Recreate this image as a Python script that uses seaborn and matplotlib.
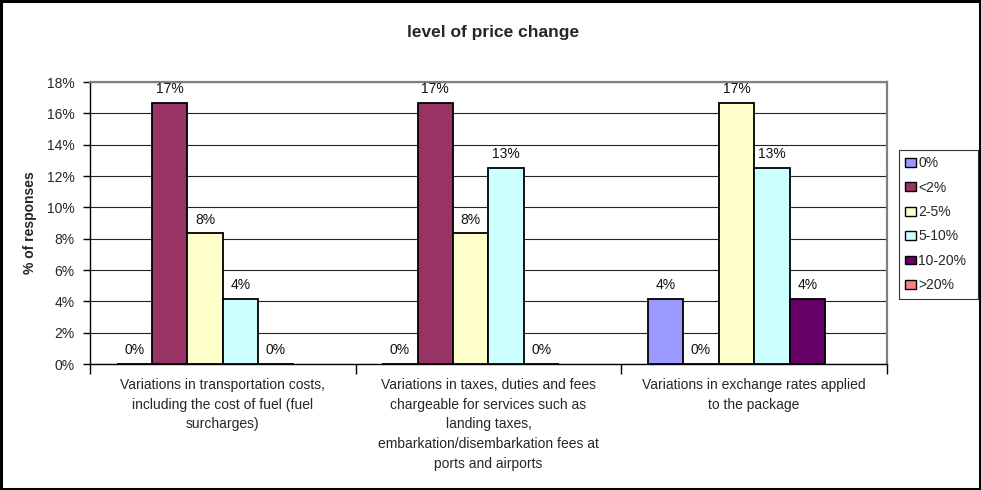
import numpy as np
import pandas as pd
import matplotlib
matplotlib.use("Agg")
import matplotlib.pyplot as plt
from matplotlib.patches import Patch, Rectangle
import seaborn as sns

# ---- data ----
categories = [
    "Variations in transportation costs,\nincluding the cost of fuel (fuel\nsurcharges)",
    "Variations in taxes, duties and fees\nchargeable for services such as\nlanding taxes,\nembarkation/disembarkation fees at\nports and airports",
    "Variations in exchange rates applied\nto the package",
]
series = ["0%", "<2%", "2-5%", "5-10%", "10-20%", ">20%"]
v_0 = [0.0, 0.0, 4.17]
v_lt2 = [16.67, 16.67, 0.0]
v_2_5 = [8.33, 8.33, 16.67]
v_5_10 = [4.17, 12.5, 12.5]
v_10_20 = [0.0, 0.0, 4.17]
v_gt20 = [np.nan, np.nan, np.nan]
colors = ["#9999FF", "#993366", "#FFFFCC", "#CCFFFF", "#660066", "#FF8080"]
yticks = [0, 2, 4, 6, 8, 10, 12, 14, 16, 18]

values = [v_0, v_lt2, v_2_5, v_5_10, v_10_20, v_gt20]
rows = []
for s, vals in zip(series, values):
    for c, v in zip(categories, vals):
        rows.append({"cat": c, "series": s, "val": v})
df = pd.DataFrame(rows)

sns.set_style("white")
plt.rcParams["font.family"] = ["Liberation Sans", "DejaVu Sans"]
FS = 10

fig = plt.figure(figsize=(9.81, 4.90), dpi=100)
ax = fig.add_axes([90 / 981, 1 - 364 / 490, 797 / 981, (364 - 82) / 490])

sns.barplot(data=df, x="cat", y="val", hue="series", order=categories,
            hue_order=series, palette=colors, width=0.8, edgecolor="black",
            linewidth=1.3, saturation=1, legend=False, ax=ax, zorder=3,
            errorbar=None)

for cont, vals in zip(ax.containers, values):
    for bar, v in zip(cont.patches, vals):
        if bar is None or np.isnan(v):
            continue
        ax.annotate(f"{int(np.floor(v + 0.5))}%",
                    xy=(bar.get_x() + bar.get_width() / 2, bar.get_height()),
                    xytext=(0, 5), textcoords="offset points",
                    ha="center", va="bottom", fontsize=FS, color="#111111")

ax.set_ylim(0, 18)
ax.set_yticks(yticks)
ax.set_yticklabels([f"{t}%" for t in yticks], fontsize=FS)
ax.yaxis.grid(True, color="#222222", linewidth=0.8, zorder=0)
ax.set_axisbelow(True)
ax.tick_params(axis="y", length=5, width=1, color="black", pad=6, left=True)

ax.set_xlim(-0.5, 2.5)
ax.set_xticks([-0.5, 0.5, 1.5, 2.5])
ax.set_xticklabels([])
ax.set_xticks([0, 1, 2], minor=True)
ax.set_xticklabels(categories, minor=True, fontsize=FS, linespacing=1.52)
ax.tick_params(axis="x", which="major", length=7, width=1, color="black", bottom=True)
ax.tick_params(axis="x", which="minor", length=0, pad=10)
ax.set_xlabel("")

ax.set_ylabel("% of responses", fontsize=FS, fontweight="bold")
ax.yaxis.set_label_coords(-0.066, 0.5)

for side in ["top", "right"]:
    ax.spines[side].set_color("#808080")
    ax.spines[side].set_linewidth(1.6)
for side in ["left", "bottom"]:
    ax.spines[side].set_color("black")
    ax.spines[side].set_linewidth(1.0)

fig.text(493 / 981, 1 - 32 / 490, "level of price change", ha="center",
         va="center", fontsize=12.5, fontweight="bold")

handles = [Patch(facecolor=c, edgecolor="black", linewidth=1.0) for c in colors]
leg = fig.legend(handles, series, loc="upper left",
                 bbox_to_anchor=(899 / 981, 1 - 298 / 490, 79 / 981, (298 - 150) / 490),
                 mode="expand", borderaxespad=0, fontsize=FS, frameon=True,
                 fancybox=False, handlelength=0.8, handleheight=0.6,
                 handletextpad=0.15, labelspacing=0.75, borderpad=0.45)
leg.get_frame().set_edgecolor("black")
leg.get_frame().set_linewidth(0.8)

fig.patches.append(Rectangle((0.0015, 0.002), 0.997, 0.996, transform=fig.transFigure,
                             fill=False, edgecolor="black", linewidth=2.2))

fig.savefig("out.png", dpi=100)
